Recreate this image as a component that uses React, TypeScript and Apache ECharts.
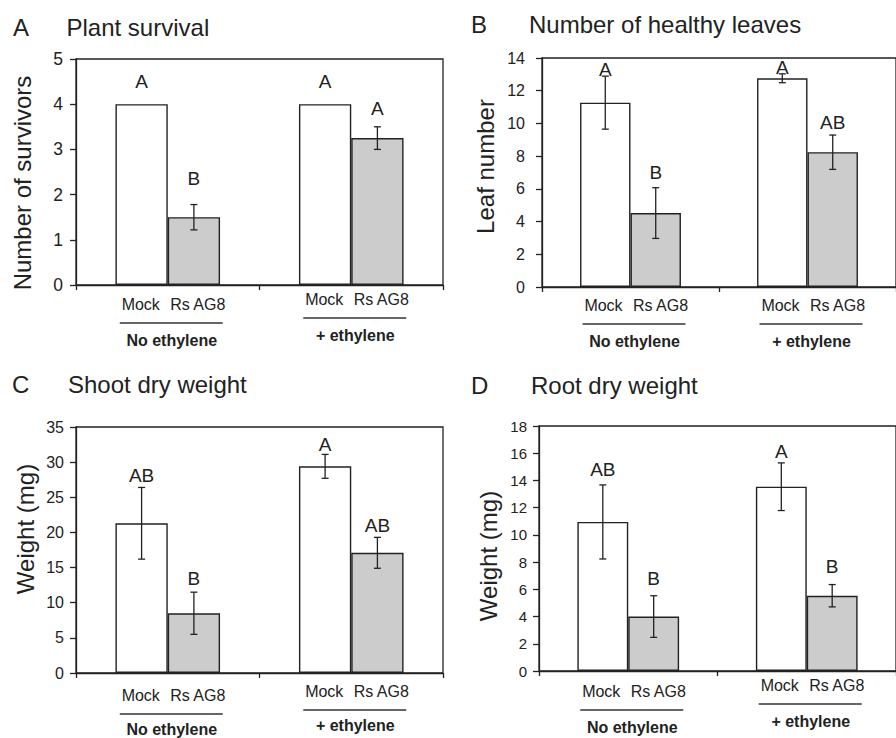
import React, { useEffect, useRef } from "react";
import * as echarts from "echarts";

const FONT = "'Liberation Sans', Arial, Helvetica, sans-serif";
const INK = "#222222";

// ---------- data ----------
const groupNames = ["No ethylene", "+ ethylene"];
const treatmentNames = ["Mock", "Rs AG8"];

// A  Plant survival
const survivalMock = [4, 4];
const survivalMockErr = [0, 0];
const survivalRs = [1.5, 3.25];
const survivalRsErr = [0.28, 0.25];
const survivalMockLetters = ["A", "A"];
const survivalRsLetters = ["B", "A"];
const survivalMockLetterY = [4.5, 4.5];
const survivalRsLetterY = [2.36, 3.91];
const survivalAxis = [0, 5, 1];

// B  Number of healthy leaves
const leavesMock = [11.27, 12.76];
const leavesMockErr = [1.62, 0.27];
const leavesRs = [4.52, 8.24];
const leavesRsErr = [1.55, 1.05];
const leavesMockLetters = ["A", "A"];
const leavesRsLetters = ["B", "AB"];
const leavesMockLetterY = [13.28, 13.39];
const leavesRsLetterY = [7.0, 10.06];
const leavesAxis = [0, 14, 2];

// C  Shoot dry weight
const shootMock = [21.3, 29.4];
const shootMockErr = [5.1, 1.7];
const shootRs = [8.5, 17.1];
const shootRsErr = [3.0, 2.2];
const shootMockLetters = ["AB", "A"];
const shootRsLetters = ["B", "AB"];
const shootMockLetterY = [28.1, 32.5];
const shootRsLetterY = [13.5, 21.0];
const shootAxis = [0, 35, 5];

// D  Root dry weight
const rootMock = [10.95, 13.54];
const rootMockErr = [2.72, 1.75];
const rootRs = [4.0, 5.53];
const rootRsErr = [1.53, 0.82];
const rootMockLetters = ["AB", "A"];
const rootRsLetters = ["B", "B"];
const rootMockLetterY = [14.82, 16.16];
const rootRsLetterY = [6.81, 7.71];
const rootAxis = [0, 18, 2];

const panelData = [
  { letter: "A", title: "Plant survival", yName: "Number of survivors", mock: survivalMock, mockErr: survivalMockErr, rs: survivalRs, rsErr: survivalRsErr, mockLet: survivalMockLetters, rsLet: survivalRsLetters, mockLetY: survivalMockLetterY, rsLetY: survivalRsLetterY, axis: survivalAxis },
  { letter: "B", title: "Number of healthy leaves", yName: "Leaf number", mock: leavesMock, mockErr: leavesMockErr, rs: leavesRs, rsErr: leavesRsErr, mockLet: leavesMockLetters, rsLet: leavesRsLetters, mockLetY: leavesMockLetterY, rsLetY: leavesRsLetterY, axis: leavesAxis },
  { letter: "C", title: "Shoot dry weight", yName: "Weight (mg)", mock: shootMock, mockErr: shootMockErr, rs: shootRs, rsErr: shootRsErr, mockLet: shootMockLetters, rsLet: shootRsLetters, mockLetY: shootMockLetterY, rsLetY: shootRsLetterY, axis: shootAxis },
  { letter: "D", title: "Root dry weight", yName: "Weight (mg)", mock: rootMock, mockErr: rootMockErr, rs: rootRs, rsErr: rootRsErr, mockLet: rootMockLetters, rsLet: rootRsLetters, mockLetY: rootMockLetterY, rsLetY: rootRsLetterY, axis: rootAxis },
];

// ---------- layout ----------
const CAT_GAP = 0.43;
const layout = [
  { grid: { left: 76, top: 59, width: 367, height: 226 }, nameGap: 42, namePad: [0, 22, 0, 0], tickFont: 17.5, labelMargin: 13, letterX: 13, titleX: 66.5, titleTop: 15, groupDy: [19, 14], nameDy: 36 },
  { grid: { left: 542, top: 58, width: 358, height: 229 }, nameGap: 45, namePad: [0, 0, 0, 12], tickFont: 16, labelMargin: 17, letterX: 471, titleX: 529, titleTop: 12, groupDy: [18, 18], nameDy: 36 },
  { grid: { left: 76, top: 427, width: 367, height: 246 }, nameGap: 39, namePad: [0, 0, 0, 42], tickFont: 16, labelMargin: 12, letterX: 12, titleX: 68, titleTop: 372, groupDy: [22, 18], nameDy: 34 },
  { grid: { left: 539, top: 426, width: 364, height: 245 }, nameGap: 39, namePad: [0, 15, 0, 0], tickFont: 15, labelMargin: 12, letterX: 471, titleX: 531, titleTop: 373, groupDy: [20, 14], nameDy: 36 },
];

function buildOption() {
  const titles: any[] = [];
  const grids: any[] = [];
  const xAxes: any[] = [];
  const yAxes: any[] = [];
  const series: any[] = [];

  panelData.forEach((p, i) => {
    const L = layout[i];
    titles.push({ text: p.letter, left: L.letterX, top: L.titleTop, padding: 0, textStyle: { fontSize: 24, fontWeight: "normal", color: INK, fontFamily: FONT } });
    titles.push({ text: p.title, left: L.titleX, top: L.titleTop, padding: 0, textStyle: { fontSize: 24, fontWeight: "normal", color: INK, fontFamily: FONT } });
    grids.push({ ...L.grid, show: true, borderColor: INK, borderWidth: 1.3, containLabel: false });
    xAxes.push({
      gridIndex: i, type: "category", data: groupNames,
      axisLine: { show: true, lineStyle: { color: INK, width: 1.3 } },
      axisTick: { show: true, length: 5, lineStyle: { color: INK, width: 1.3 } },
      axisLabel: { show: false }, splitLine: { show: false },
    });
    yAxes.push({
      gridIndex: i, type: "value", min: p.axis[0], max: p.axis[1], interval: p.axis[2],
      name: p.yName, nameLocation: "middle", nameRotate: 90, nameGap: L.nameGap,
      nameTextStyle: { fontSize: 24, color: INK, fontFamily: FONT, padding: L.namePad },
      axisLine: { show: true, lineStyle: { color: INK, width: 1.3 } },
      axisTick: { show: true, length: 6, lineStyle: { color: INK, width: 1.3 } },
      axisLabel: { fontSize: L.tickFont, color: INK, fontFamily: FONT, margin: L.labelMargin },
      splitLine: { show: false },
    });
    series.push({
      type: "bar", name: treatmentNames[0], xAxisIndex: i, yAxisIndex: i, data: p.mock,
      barGap: "0%", barCategoryGap: `${CAT_GAP * 100}%`,
      itemStyle: { color: "#ffffff", borderColor: INK, borderWidth: 1.4 }, silent: true,
    });
    series.push({
      type: "bar", name: treatmentNames[1], xAxisIndex: i, yAxisIndex: i, data: p.rs,
      barGap: "0%", barCategoryGap: `${CAT_GAP * 100}%`,
      itemStyle: { color: "#cccccc", borderColor: INK, borderWidth: 1.4 }, silent: true,
    });

    // error bars + significance letters
    const items: any[] = [];
    for (let c = 0; c < 2; c++) {
      items.push({ cat: c, side: -1, v: p.mock[c], e: p.mockErr[c], t: p.mockLet[c], ty: p.mockLetY[c] });
      items.push({ cat: c, side: 1, v: p.rs[c], e: p.rsErr[c], t: p.rsLet[c], ty: p.rsLetY[c] });
    }
    series.push({
      type: "custom", xAxisIndex: i, yAxisIndex: i, clip: false, silent: true, z: 5,
      data: items.map((it) => [it.cat, it.v]),
      renderItem: (params: any, api: any) => {
        const it = items[params.dataIndex];
        const catW = api.size([1, 0])[0];
        const barW = (catW * (1 - CAT_GAP)) / 2;
        const center = api.coord([it.cat, it.v]);
        const x = center[0] + (it.side * barW) / 2;
        const children: any[] = [];
        if (it.e > 0) {
          const top = api.coord([it.cat, it.v + it.e])[1];
          const bot = api.coord([it.cat, it.v - it.e])[1];
          const ls = { stroke: INK, lineWidth: 1.3 };
          children.push({ type: "line", shape: { x1: x, y1: top, x2: x, y2: bot }, style: ls });
          children.push({ type: "line", shape: { x1: x - 3.5, y1: top, x2: x + 3.5, y2: top }, style: ls });
          children.push({ type: "line", shape: { x1: x - 3.5, y1: bot, x2: x + 3.5, y2: bot }, style: ls });
        }
        const ly = api.coord([it.cat, it.ty])[1];
        children.push({
          type: "text", x, y: ly,
          style: { text: it.t, fill: INK, fontSize: 19, fontFamily: FONT, align: "center", verticalAlign: "middle" },
        });
        return { type: "group", children };
      },
    });

    // treatment labels, group underline, group name
    series.push({
      type: "custom", xAxisIndex: i, yAxisIndex: i, clip: false, silent: true, z: 5,
      data: groupNames.map((_, c) => [c, 0]),
      renderItem: (params: any, api: any) => {
        const c = params.dataIndex;
        const pt = api.coord([c, 0]);
        const dy = L.groupDy[c];
        const y0 = pt[1] + dy;
        const cx = pt[0];
        const ts = { fill: INK, fontSize: 16, fontFamily: FONT, align: "center", verticalAlign: "middle" };
        return {
          type: "group",
          children: [
            { type: "text", x: cx - 27, y: y0, style: { ...ts, text: treatmentNames[0] } },
            { type: "text", x: cx + 30, y: y0, style: { ...ts, text: treatmentNames[1] } },
            { type: "line", shape: { x1: cx - 48, y1: y0 + 19, x2: cx + 55, y2: y0 + 19 }, style: { stroke: "#333", lineWidth: 1.3 } },
            { type: "text", x: cx + 4, y: y0 + L.nameDy, style: { ...ts, text: groupNames[c], fontWeight: "bold" } },
          ],
        };
      },
    });
  });

  return {
    animation: false,
    backgroundColor: "#ffffff",
    title: titles,
    grid: grids,
    xAxis: xAxes,
    yAxis: yAxes,
    series,
  };
}

export default function App() {
  const ref = useRef<HTMLDivElement>(null);
  useEffect(() => {
    if (!ref.current) return;
    const chart = echarts.init(ref.current, undefined, { renderer: "svg" });
    chart.setOption(buildOption() as any);
    return () => chart.dispose();
  }, []);
  return (
    <div
      ref={ref}
      style={{ position: "fixed", left: 0, top: 0, width: 896, height: 738, background: "#fff" }}
    />
  );
}
